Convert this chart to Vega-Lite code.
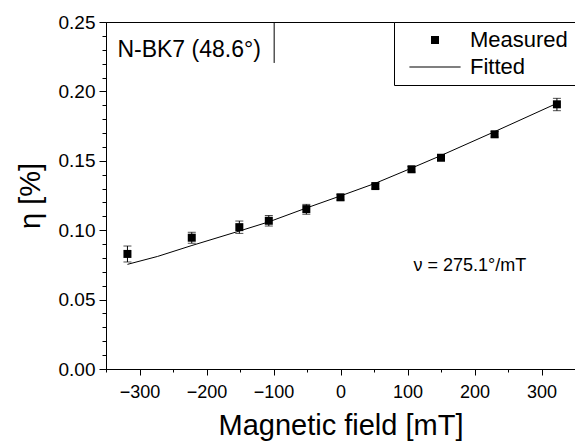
{
  "$schema": "https://vega.github.io/schema/vega-lite/v6.json",
  "autosize": {"type": "none"},
  "padding": {"left": 106, "top": 22, "right": 0, "bottom": 72},
  "width": 469,
  "height": 347,
  "background": "white",
  "config": {
    "font": "Liberation Sans",
    "view": {"stroke": "black", "strokeWidth": 1},
    "axis": {
      "grid": false,
      "domainColor": "black",
      "tickColor": "black",
      "labelColor": "black",
      "titleColor": "black",
      "labelFont": "Liberation Sans",
      "titleFont": "Liberation Sans",
      "titleFontWeight": "normal",
      "labelOverlap": false,
      "labelBound": false,
      "labelFlush": false
    }
  },
  "resolve": {"axis": {"x": "independent", "y": "independent"}},
  "datasets": {
    "meas": [
      {"field": -318, "eta": 0.0829, "lo": 0.0771, "hi": 0.0886, "series": "Measured"},
      {"field": -222, "eta": 0.0946, "lo": 0.0906, "hi": 0.0985, "series": "Measured"},
      {"field": -151, "eta": 0.1022, "lo": 0.0977, "hi": 0.1066, "series": "Measured"},
      {"field": -107, "eta": 0.1068, "lo": 0.1030, "hi": 0.1106, "series": "Measured"},
      {"field": -51, "eta": 0.1152, "lo": 0.1115, "hi": 0.1186, "series": "Measured"},
      {"field": 0, "eta": 0.1237, "lo": 0.1217, "hi": 0.1257, "series": "Measured"},
      {"field": 52, "eta": 0.1318, "lo": 0.1298, "hi": 0.1338, "series": "Measured"},
      {"field": 106, "eta": 0.1439, "lo": 0.1419, "hi": 0.1459, "series": "Measured"},
      {"field": 150, "eta": 0.1522, "lo": 0.1502, "hi": 0.1542, "series": "Measured"},
      {"field": 230, "eta": 0.1691, "lo": 0.1671, "hi": 0.1711, "series": "Measured"},
      {"field": 323, "eta": 0.1907, "lo": 0.1861, "hi": 0.1950, "series": "Measured"}
    ],
    "fit": [
      {"field": -318, "eta": 0.0754},
      {"field": -273, "eta": 0.0811},
      {"field": -223, "eta": 0.0888},
      {"field": -151, "eta": 0.0994},
      {"field": -107, "eta": 0.1060},
      {"field": -52, "eta": 0.1158},
      {"field": 0, "eta": 0.1247},
      {"field": 52, "eta": 0.1338},
      {"field": 106, "eta": 0.1447},
      {"field": 150, "eta": 0.1538},
      {"field": 230, "eta": 0.1710},
      {"field": 323, "eta": 0.1914}
    ],
    "one": [{}]
  },
  "layer": [
    {
      "data": {"name": "fit"},
      "mark": {"type": "line", "color": "black", "strokeWidth": 1, "clip": true},
      "encoding": {
        "x": {
          "field": "field", "type": "quantitative",
          "scale": {"domain": [-350, 350], "nice": false, "zero": false},
          "axis": {
            "orient": "bottom",
            "title": "Magnetic field [mT]",
            "titleFontSize": 29,
            "titlePadding": 10,
            "values": [-300, -200, -100, 0, 100, 200, 300],
            "labelFontSize": 18,
            "labelPadding": 8,
            "tickSize": 6
          }
        },
        "y": {
          "field": "eta", "type": "quantitative",
          "scale": {"domain": [0, 0.25], "nice": false},
          "axis": {
            "orient": "left",
            "title": "η [%]",
            "titleFontSize": 29,
            "titlePadding": 13,
            "values": [0, 0.05, 0.1, 0.15, 0.2, 0.25],
            "format": ".2f",
            "labelFontSize": 19,
            "labelPadding": 4,
            "tickSize": 7
          }
        }
      }
    },
    {
      "data": {"name": "meas"},
      "mark": {"type": "rule", "color": "black", "strokeWidth": 1},
      "encoding": {
        "x": {
          "field": "field", "type": "quantitative",
          "axis": {"orient": "bottom", "title": null, "labels": false, "domain": false, "tickSize": 3,
                   "values": [-350, -250, -150, -50, 50, 150, 250, 350]}
        },
        "y": {
          "field": "lo", "type": "quantitative",
          "axis": {"orient": "left", "title": null, "labels": false, "domain": false, "tickSize": 4,
                   "values": [0.01, 0.02, 0.03, 0.04, 0.06, 0.07, 0.08, 0.09, 0.11, 0.12, 0.13, 0.14, 0.16, 0.17, 0.18, 0.19, 0.21, 0.22, 0.23, 0.24]}
        },
        "y2": {"field": "hi"}
      }
    },
    {
      "data": {"name": "meas"},
      "mark": {"type": "tick", "orient": "horizontal", "color": "black", "size": 8, "thickness": 1},
      "encoding": {
        "x": {"field": "field", "type": "quantitative", "axis": null},
        "y": {"field": "lo", "type": "quantitative", "axis": null}
      }
    },
    {
      "data": {"name": "meas"},
      "mark": {"type": "tick", "orient": "horizontal", "color": "black", "size": 8, "thickness": 1},
      "encoding": {
        "x": {"field": "field", "type": "quantitative", "axis": null},
        "y": {"field": "hi", "type": "quantitative", "axis": null}
      }
    },
    {
      "data": {"name": "meas"},
      "mark": {"type": "point", "filled": true, "color": "black", "size": 64, "opacity": 1},
      "encoding": {
        "x": {"field": "field", "type": "quantitative", "axis": null},
        "y": {"field": "eta", "type": "quantitative", "axis": null},
        "shape": {
          "field": "series", "type": "nominal",
          "scale": {"domain": ["Measured", "Fitted"], "range": ["square", "M-6.4,-0.13L6.4,-0.13L6.4,0.13L-6.4,0.13Z"]},
          "legend": {
            "title": null,
            "orient": "top-right",
            "offset": 0,
            "padding": 7,
            "strokeColor": "black",
            "fillColor": "white",
            "labelFont": "Liberation Sans",
            "labelFontSize": 22,
            "labelColor": "black",
            "labelOffset": 24,
            "symbolOffset": 23,
            "symbolSize": 64,
            "rowPadding": 5,
            "symbolFillColor": "black",
            "symbolStrokeColor": "black",
            "symbolStrokeWidth": 0,
            "encode": {
              "symbols": {"update": {"fill": {"value": "black"}, "opacity": {"value": 1}, "fillOpacity": {"value": 1}}}
            }
          }
        }
      }
    },
    {
      "data": {"name": "one"},
      "mark": {"type": "text", "text": "N-BK7 (48.6°)", "align": "left", "baseline": "alphabetic", "fontSize": 23, "color": "black"},
      "encoding": {"x": {"datum": -333, "axis": null}, "y": {"datum": 0.2248, "axis": null}}
    },
    {
      "data": {"name": "one"},
      "mark": {"type": "text", "text": "ν = 275.1°/mT", "align": "left", "baseline": "alphabetic", "fontSize": 18, "color": "black"},
      "encoding": {"x": {"datum": 109, "axis": null}, "y": {"datum": 0.0703, "axis": null}}
    },
    {
      "data": {"name": "one"},
      "mark": {"type": "rule", "color": "black", "strokeWidth": 1},
      "encoding": {"x": {"datum": -99, "axis": null}, "y": {"datum": 0.25, "axis": null}, "y2": {"datum": 0.2205}}
    }
  ]
}
